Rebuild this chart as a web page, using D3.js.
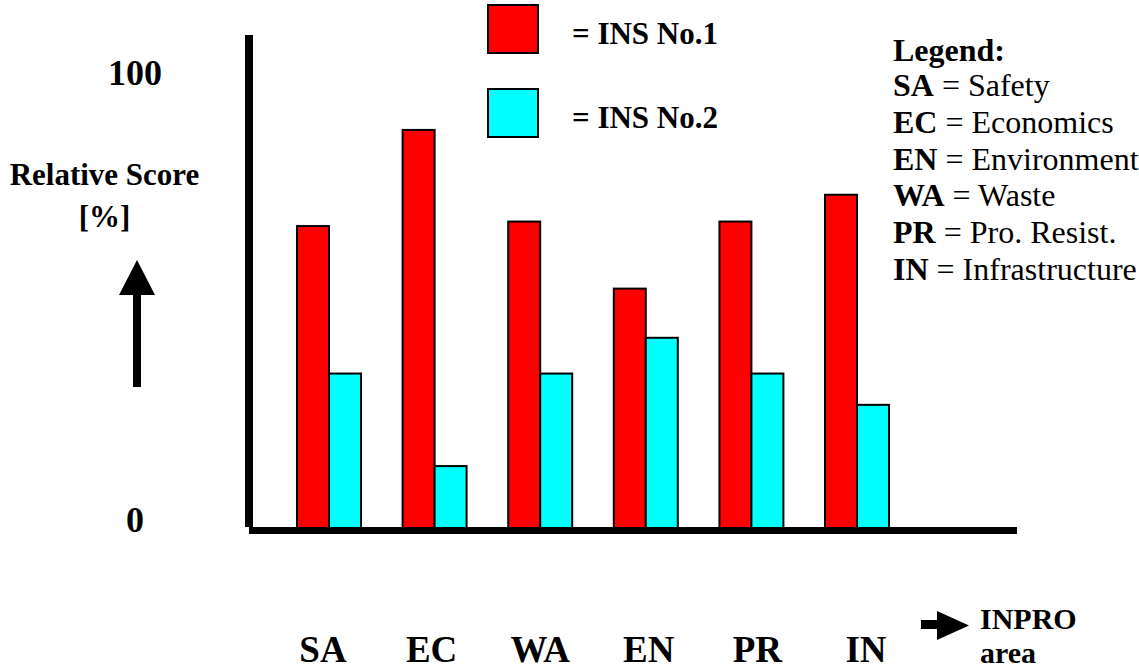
<!DOCTYPE html>
<html>
<head>
<meta charset="utf-8">
<script src="https://cdn.jsdelivr.net/npm/d3@7"></script>
<style>
  html, body { margin: 0; padding: 0; background: #fff; }
  svg { display: block; }
  svg text, svg tspan { font-family: "Liberation Serif", "DejaVu Serif", serif; }
</style>
</head>
<body>
<svg id="chart" width="1139" height="671"></svg>
<script>
// INPRO assessment areas and relative scores (%) of two innovative nuclear systems
const areas = ["SA", "EC", "WA", "EN", "PR", "IN"];
const ins1 = [68, 89.5, 69, 54, 69, 75];
const ins2 = [35, 14.3, 35, 43, 35, 28];
const seriesNames = ["= INS No.1", "= INS No.2"];
const seriesColors = ["#ff0000", "#00ffff"];
const yTicks = [0, 100];
const legendTitle = "Legend:";
const legendKeys = ["SA", "EC", "EN", "WA", "PR", "IN"];
const legendNames = ["Safety", "Economics", "Environment", "Waste", "Pro. Resist.", "Infrastructure"];

const svg = d3.select("#chart");

// value scale: 0 sits on the base line, 100 beside the top label
const y = d3.scaleLinear().domain([0, 100]).range([530, 83]);

// groups of two bars along the base line
const xGroup = d3.scaleBand().domain(areas).range([297, 889]).paddingInner(0.394).paddingOuter(0);
const xSeries = d3.scaleBand().domain([0, 1]).range([0, xGroup.bandwidth()]);

// category labels under the axis
const xLabel = d3.scalePoint().domain(areas).range([323, 866]);

// vertical axis line
svg.append("rect").attr("x", 245).attr("y", 35).attr("width", 8).attr("height", y(0) - 3 - 35).attr("fill", "#000");

const rows = areas.map((a, i) => ({ area: a, values: [ins1[i], ins2[i]] }));

const groups = svg.append("g").selectAll("g").data(rows).join("g")
  .attr("transform", d => `translate(${xGroup(d.area)},0)`);

groups.selectAll("rect").data(d => d.values.map((v, k) => ({ v, k }))).join("rect")
  .attr("x", d => xSeries(d.k))
  .attr("y", d => y(d.v))
  .attr("width", xSeries.bandwidth())
  .attr("height", d => y(0) + 2 - y(d.v))
  .attr("fill", d => seriesColors[d.k])
  .attr("stroke", "#000")
  .attr("stroke-width", 2);

// base line
svg.append("rect").attr("x", 249).attr("y", 527).attr("width", 768).attr("height", 7).attr("fill", "#000");

// value labels at both ends of the scale
svg.append("g").selectAll("text").data(yTicks).join("text")
  .attr("x", 135)
  .attr("y", d => y(d) + 2)
  .attr("text-anchor", "middle")
  .attr("font-size", 36)
  .attr("font-weight", "bold")
  .text(d => d);

// y-axis title with upward arrow
const yTitle = svg.append("text").attr("text-anchor", "middle")
  .attr("font-size", 31).attr("font-weight", "bold");
yTitle.append("tspan").attr("x", 104.5).attr("y", 185).text("Relative Score");
yTitle.append("tspan").attr("x", 104.5).attr("dy", 42).text("[%]");
svg.append("path").attr("d", "M137,260 L155,295 L141,295 L141,387 L133,387 L133,295 L119,295 Z").attr("fill", "#000");

// category labels
svg.append("g").selectAll("text").data(areas).join("text")
  .attr("x", d => xLabel(d))
  .attr("y", 662)
  .attr("text-anchor", "middle")
  .attr("font-size", 37)
  .attr("font-weight", "bold")
  .text(d => d);

// x-axis title with arrow
svg.append("path").attr("d", "M921,620 L937,620 L937,611 L969,625.5 L937,640 L937,629 L921,629 Z").attr("fill", "#000");
const xTitle = svg.append("text").attr("font-size", 30).attr("font-weight", "bold");
xTitle.append("tspan").attr("x", 980).attr("y", 629).text("INPRO");
xTitle.append("tspan").attr("x", 980).attr("dy", 34).text("area");

// series key
const key = svg.append("g").selectAll("g").data(seriesNames).join("g")
  .attr("transform", (d, i) => `translate(488,${5 + i * 84})`);
key.append("rect").attr("width", 50).attr("height", 48)
  .attr("fill", (d, i) => seriesColors[i]).attr("stroke", "#000").attr("stroke-width", 2);
key.append("text").attr("x", 84).attr("y", 39).attr("font-size", 31).attr("font-weight", "bold").text(d => d);

// abbreviation legend
const leg = svg.append("g").attr("transform", "translate(893,0)");
leg.append("text").attr("y", 61).attr("font-size", 32).attr("font-weight", "bold").text(legendTitle);
const legRows = leg.selectAll("text.row").data(legendKeys).join("text")
  .attr("class", "row")
  .attr("y", (d, i) => 96 + i * 36.8)
  .attr("font-size", 32);
legRows.append("tspan").attr("font-weight", "bold").text(d => d);
legRows.append("tspan").text((d, i) => " = " + legendNames[i]);
</script>
</body>
</html>
